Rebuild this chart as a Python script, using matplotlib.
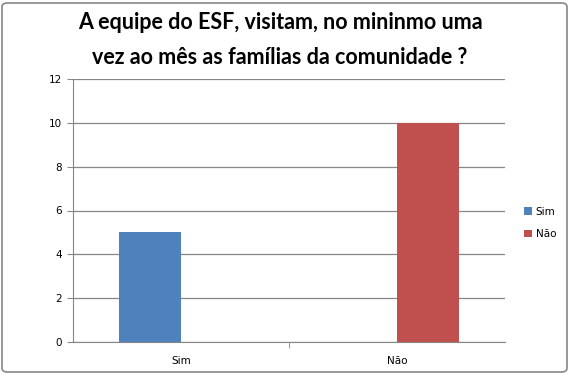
import matplotlib
matplotlib.use("Agg")
import matplotlib.pyplot as plt
from matplotlib.patches import FancyBboxPatch

categories = ["Sim", "Não"]
series_names = ["Sim", "Não"]
sim_values = [5, 0]
nao_values = [0, 10]
colors = ["#4F81BD", "#C0504D"]
title = "A equipe do ESF, visitam, no mininmo uma\nvez ao mês as famílias da comunidade ?"

fig = plt.figure(figsize=(5.69, 3.74), dpi=100)
ax = fig.add_axes([73 / 569, 1 - 342 / 374, (505 - 73) / 569, (342 - 79) / 374])

w = 62 / 216
x = list(range(len(categories)))
ax.bar([i - w / 2 for i in x], sim_values, width=w, color=colors[0], label=series_names[0], zorder=3)
ax.bar([i + w / 2 for i in x], nao_values, width=w, color=colors[1], label=series_names[1], zorder=3)

ax.set_xlim(-0.5, 1.5)
ax.set_ylim(0, 12)
ax.set_yticks(range(0, 13, 2))
ax.set_xticks(x)
ax.set_xticklabels(categories)
ax.set_xticks([0.5], minor=True)
ax.tick_params(axis="x", which="major", length=0, pad=10, labelsize=7.5, labelcolor="#000000")
ax.tick_params(axis="x", which="minor", length=4, direction="out", color="#888888")
ax.tick_params(axis="y", length=4, color="#888888", labelsize=7.5, pad=4)
ax.grid(axis="y", color="#868686", linewidth=0.9, zorder=0)
for s in ["top", "right"]:
    ax.spines[s].set_visible(False)
ax.spines["left"].set_color("#868686")
ax.spines["bottom"].set_color("#868686")

fig.text(280 / 569, 1 - 40 / 374, title, ha="center", va="center", fontsize=15.5,
         fontweight="bold", family="Lato", linespacing=1.8)

leg = fig.legend(loc="center left", bbox_to_anchor=(515 / 569, 1 - 223 / 374), frameon=False,
                 fontsize=7.5, handlelength=0.7, handleheight=0.7, handletextpad=0.4,
                 labelspacing=1.2)

border = FancyBboxPatch((2 / 569, 2 / 374), 565 / 569, 369 / 374, boxstyle="round,pad=0,rounding_size=0.01",
                        transform=fig.transFigure, fill=False, edgecolor="#868686", linewidth=1.2)
fig.patches.append(border)

fig.savefig("out.png", dpi=100)
